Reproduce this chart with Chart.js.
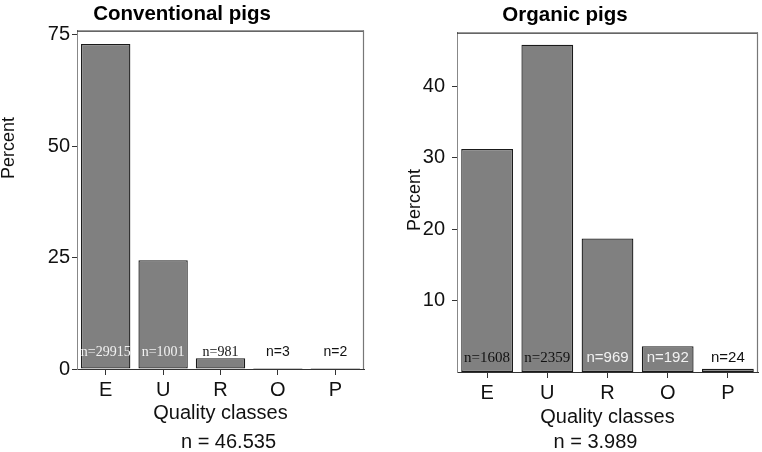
<!DOCTYPE html>
<html>
<head>
<meta charset="utf-8">
<script src="https://cdn.jsdelivr.net/npm/chart.js@4"></script>
<style>
  body { margin: 0; background: #fff; }
  #wrap { position: relative; width: 762px; height: 452px; }
  canvas { position: absolute; top: 0; }
  #convChart { left: 0; }
  #orgChart { left: 372px; }
</style>
</head>
<body>
<div id="wrap">
  <canvas id="convChart" width="366" height="452"></canvas>
  <canvas id="orgChart" width="390" height="452"></canvas>
</div>
<script>
// Data
const categories = ['E', 'U', 'R', 'O', 'P'];

const convPercent = [72.9, 24.4, 2.4, 0.02, 0.01];
const convCounts = [29915, 1001, 981, 3, 2];
const convTicks = [0, 25, 50, 75];
const convTotal = 'n = 46.535';

const orgPercent = [31.2, 45.8, 18.7, 3.6, 0.45];
const orgCounts = [1608, 2359, 969, 192, 24];
const orgTicks = [10, 20, 30, 40];
const orgTotal = 'n = 3.989';

// label styles (font family + colour per bar)
const SERIF = 'Liberation Serif';
const SANS = 'Liberation Sans';
const convLabelFonts = [SERIF, SERIF, SERIF, SANS, SANS];
const convLabelColors = ['#f2f2f2', '#f2f2f2', '#111', '#111', '#111'];
const orgLabelFonts = [SERIF, SERIF, SANS, SANS, SANS];
const orgLabelColors = ['#111', '#111', '#f2f2f2', '#f2f2f2', '#111'];

Chart.defaults.font.family = SANS;
Chart.defaults.color = '#111';

// frame round the plot area (top and right sides)
const framePlugin = {
    id: 'frame',
    beforeDatasetsDraw(chart) {
        const { ctx, chartArea: a } = chart;
        ctx.save();
        ctx.lineWidth = 1.2;
        ctx.strokeStyle = '#333';
        ctx.beginPath();
        ctx.moveTo(a.left, a.top + 0.5);
        ctx.lineTo(a.right, a.top + 0.5);
        ctx.stroke();
        ctx.strokeStyle = '#777';
        ctx.beginPath();
        ctx.moveTo(a.right - 0.5, a.top);
        ctx.lineTo(a.right - 0.5, a.bottom);
        ctx.stroke();
        ctx.restore();
    }
};

// n=... labels inside bars, the y title and the total under the axis title
const countLabels = {
    id: 'countLabels',
    afterDatasetsDraw(chart, args, opts) {
        const { ctx, chartArea: a } = chart;
        const meta = chart.getDatasetMeta(0);
        const y0 = chart.scales.y.getPixelForValue(0);
        ctx.save();
        ctx.textAlign = 'center';
        ctx.textBaseline = 'middle';
        meta.data.forEach((bar, i) => {
            ctx.font = opts.size + 'px "' + opts.fonts[i] + '"';
            ctx.fillStyle = opts.colors[i];
            ctx.fillText('n=' + opts.counts[i], bar.x, y0 - opts.lift);
        });
        ctx.font = '20px "' + SANS + '"';
        ctx.fillStyle = '#111';
        ctx.fillText(opts.total, (a.left + a.right) / 2 + opts.totalShift, opts.totalY);

        // rotated "Percent"
        ctx.font = '18px "' + SANS + '"';
        ctx.translate(chart.scales.y.left + opts.yTitleX, opts.yTitleY);
        ctx.rotate(-Math.PI / 2);
        ctx.fillText('Percent', 0, 0);
        ctx.restore();
    }
};

function makeChart(id, cfg) {
    const ctx = document.getElementById(id).getContext('2d');
    return new Chart(ctx, {
        type: 'bar',
        data: {
            labels: categories,
            datasets: [{
                data: cfg.values,
                backgroundColor: '#808080',
                borderColor: '#1a1a1a',
                borderWidth: 1.3,
                borderSkipped: false,
                categoryPercentage: 1,
                barPercentage: 0.86
            }]
        },
        plugins: [framePlugin, countLabels],
        options: {
            responsive: false,
            animation: false,
            devicePixelRatio: 1,
            layout: { padding: cfg.padding },
            plugins: {
                legend: { display: false },
                tooltip: { enabled: false },
                title: {
                    display: true,
                    text: cfg.title,
                    color: '#000',
                    font: { size: 20.5, weight: 'bold' },
                    padding: cfg.titlePad
                },
                countLabels: {
                    counts: cfg.counts,
                    fonts: cfg.labelFonts,
                    colors: cfg.labelColors,
                    size: cfg.labelSize,
                    lift: cfg.labelLift,
                    total: cfg.total,
                    totalShift: cfg.totalShift,
                    totalY: 442,
                    yTitleX: cfg.yTitleX,
                    yTitleY: cfg.yTitleY
                }
            },
            scales: {
                x: {
                    afterFit: s => { s.height = cfg.xHeight; },
                    grid: {
                        display: true,
                        offset: false,
                        drawOnChartArea: false,
                        tickLength: 6,
                        tickColor: '#333'
                    },
                    border: { color: '#333', width: 1 },
                    ticks: { font: { size: 20 }, padding: 3, color: '#111' },
                    title: {
                        display: true,
                        text: 'Quality classes',
                        font: { size: 20 },
                        padding: 0,
                        color: '#111'
                    }
                },
                y: {
                    min: 0,
                    max: cfg.max,
                    afterFit: s => { s.width = cfg.yWidth; },
                    afterBuildTicks: s => { s.ticks = cfg.ticks.map(v => ({ value: v })); },
                    grid: {
                        display: true,
                        drawOnChartArea: false,
                        tickLength: 5,
                        tickColor: '#333'
                    },
                    border: { color: '#888', width: 1 },
                    ticks: { font: { size: 20 }, padding: cfg.tickPad, color: '#111' },
                    title: { display: false }
                }
            }
        }
    });
}

makeChart('convChart', {
    title: 'Conventional pigs',
    values: convPercent,
    counts: convCounts,
    ticks: convTicks,
    max: 75.9,
    total: convTotal,
    totalShift: 8,
    labelFonts: convLabelFonts,
    labelColors: convLabelColors,
    labelSize: 14,
    labelLift: 17,
    yTitleX: 9,
    yTitleY: 148,
    padding: { left: 0, right: 2, top: 0, bottom: 27 },
    titlePad: { top: 2, bottom: 4 },
    xHeight: 56,
    yWidth: 77,
    tickPad: 2
});

makeChart('orgChart', {
    title: 'Organic pigs',
    values: orgPercent,
    counts: orgCounts,
    ticks: orgTicks,
    max: 47.5,
    total: orgTotal,
    totalShift: -12,
    labelFonts: orgLabelFonts,
    labelColors: orgLabelColors,
    labelSize: 15,
    labelLift: 14,
    yTitleX: 43.5,
    yTitleY: 200,
    padding: { left: 0, right: 4, top: 0, bottom: 23 },
    titlePad: { top: 3, bottom: 5 },
    xHeight: 57,
    yWidth: 85,
    tickPad: 7
});
</script>
</body>
</html>
